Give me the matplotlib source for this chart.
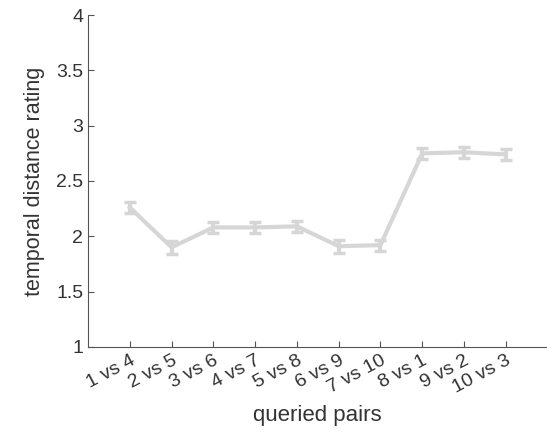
import numpy as np
import matplotlib.pyplot as plt

plt.rcParams['font.family'] = ['Liberation Sans', 'DejaVu Sans']

pairs = ["1 vs 4", "2 vs 5", "3 vs 6", "4 vs 7", "5 vs 8",
         "6 vs 9", "7 vs 10", "8 vs 1", "9 vs 2", "10 vs 3"]
rating = [2.26, 1.90, 2.08, 2.08, 2.09, 1.91, 1.92, 2.75, 2.76, 2.74]
sem = [0.05, 0.06, 0.05, 0.05, 0.05, 0.06, 0.05, 0.05, 0.05, 0.05]

axcol = '#555555'
fig = plt.figure(figsize=(5.47, 4.33), dpi=100)
ax = fig.add_axes([0.161, 0.199, 0.84, 0.766])

x = np.arange(1, len(pairs) + 1)
ax.errorbar(x, rating, yerr=sem, color='#d6d6d6', lw=3, elinewidth=3,
            capsize=4, capthick=2.5)

ax.set_xlim(0, 11)
ax.set_ylim(1, 4)
ax.set_yticks([1, 1.5, 2, 2.5, 3, 3.5, 4])
ax.set_yticklabels(['1', '1.5', '2', '2.5', '3', '3.5', '4'])
ax.set_xticks(x)
ax.set_xticklabels(pairs, rotation=28, ha='right', rotation_mode='anchor')
ax.tick_params(colors=axcol, labelcolor='#333333', labelsize=14,
               direction='in', length=4)
for s in ['top', 'right']:
    ax.spines[s].set_visible(False)
for s in ['left', 'bottom']:
    ax.spines[s].set_color(axcol)
ax.set_xlabel('queried pairs', fontsize=16, color='#333333', labelpad=6)
ax.set_ylabel('temporal distance rating', fontsize=15.5, color='#333333',
              labelpad=8)

fig.savefig('out.png', dpi=100)
